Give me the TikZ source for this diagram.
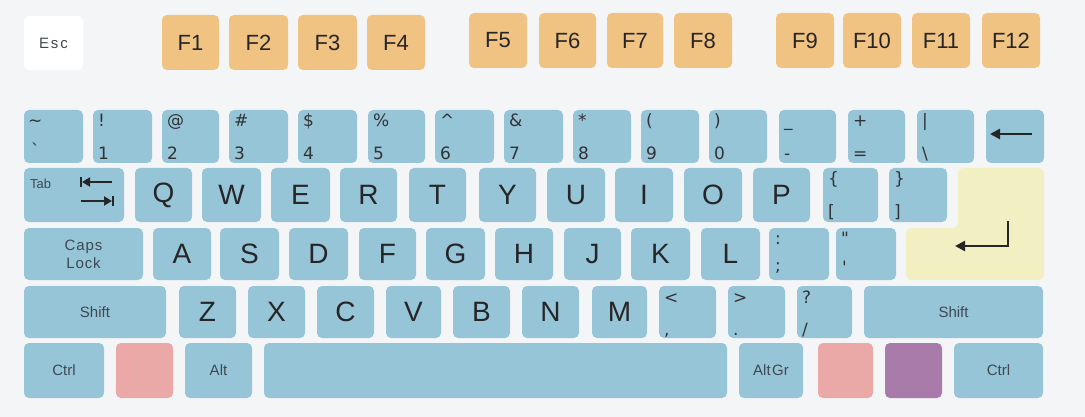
\documentclass[tikz,border=0pt]{standalone}
\usepackage{fontspec}
\setmainfont{Liberation Sans}
\newfontfamily\dvs{DejaVu Sans}
\usetikzlibrary{arrows.meta}
\definecolor{bg}{RGB}{244,245,247}
\definecolor{kblue}{RGB}{151,197,216}
\definecolor{korange}{RGB}{240,195,130}
\definecolor{kpink}{RGB}{234,168,166}
\definecolor{kpurple}{RGB}{168,123,170}
\definecolor{kyellow}{RGB}{242,240,194}
\definecolor{kdark}{RGB}{38,38,40}
\definecolor{klabel}{RGB}{62,72,82}
\definecolor{ksym}{RGB}{50,50,52}
\tikzset{
  keyb/.style={fill=kblue,draw=none,rounded corners=5pt,inner sep=0pt,text=kdark},
  letter/.style={font=\fontsize{28}{28}\selectfont},
  fkey/.style={fill=korange,font=\fontsize{22}{22}\selectfont},
  small/.style={font=\fontsize{15}{15}\selectfont,text=klabel},
  sym/.style={anchor=base west,inner sep=0pt,text=ksym,font=\dvs\fontsize{17}{17}\selectfont},
  arr/.style={line width=2.2pt,draw=kdark},
}
\newcommand\kb[7][]{%
  \pgfmathsetmacro\kw{#5-#3}\pgfmathsetmacro\kh{#6-#4}%
  \pgfmathsetmacro\kx{(#3+#5)/2}\pgfmathsetmacro\ky{(#4+#6)/2}%
  \node[keyb,#1,minimum width=\kw pt,minimum height=\kh pt] (#2) at (\kx,\ky) {#7};}
% two-symbol key: name, x1, x2, y1, y2, top, bottom
\newcommand\sk[7]{%
  \kb{#1}{#2}{#4}{#3}{#5}{}%
  \pgfmathsetmacro\sxa{#2+5}\pgfmathsetmacro\sya{#4+17}\pgfmathsetmacro\syb{#4+49.5}%
  \node[sym] (#1t) at (\sxa,\sya) {#6};
  \node[sym] (#1b) at (\sxa,\syb) {#7};}
\begin{document}
\begin{tikzpicture}[x=1pt,y=-1pt]
\fill[bg] (0,0) rectangle (1085,417);
\useasboundingbox (0,0) rectangle (1085,417);
% function row
\kb[fill=white,font=\fontsize{15}{15}\selectfont\addfontfeature{LetterSpace=12},text=klabel]{esc}{24}{16}{83}{70}{Esc}
\kb[fkey]{f1}{162}{15}{219}{70}{F1}
\kb[fkey]{f2}{229}{15}{288}{70}{F2}
\kb[fkey]{f3}{298}{15}{357}{70}{F3}
\kb[fkey]{f4}{367}{15}{425}{70}{F4}
\kb[fkey]{f5}{469}{13}{527}{68}{F5}
\kb[fkey]{f6}{539}{13}{596}{68}{F6}
\kb[fkey]{f7}{607}{13}{663}{68}{F7}
\kb[fkey]{f8}{674}{13}{732}{68}{F8}
\kb[fkey]{f9}{776}{13}{834}{68}{F9}
\kb[fkey]{f10}{843}{13}{901}{68}{F10}
\kb[fkey]{f11}{912}{13}{970}{68}{F11}
\kb[fkey]{f12}{982}{13}{1040}{68}{F12}
% number row
\kb{tilde}{24}{110}{83}{163}{}
\node[sym] (tildet) at (28,127) {\char`\~};
\node[sym] (tildeb) at (31,157) {\char`\`};
\sk{k1}{93}{152}{110}{163}{!}{1}
\sk{k2}{162}{219}{110}{163}{@}{2}
\sk{k3}{229}{288}{110}{163}{\#}{3}
\sk{k4}{298}{357}{110}{163}{\$}{4}
\sk{k5}{368}{425}{110}{163}{\%}{5}
\sk{k6}{435}{494}{110}{163}{\char`\^}{6}
\sk{k7}{504}{563}{110}{163}{\&}{7}
\sk{k8}{573}{631}{110}{163}{*}{8}
\sk{k9}{641}{699}{110}{163}{(}{9}
\sk{k0}{709}{767}{110}{163}{)}{0}
\sk{kmin}{779}{836}{110}{163}{\char`\_}{-}
\sk{keq}{848}{905}{110}{163}{+}{=}
\sk{kbsl}{917}{974}{110}{163}{|}{\char`\\}
\kb{bksp}{986}{110}{1044}{163}{}
\coordinate (bkA) at (1032,134);
\coordinate (bkB) at (990,134);
\draw[arr,line width=2.5pt,-{Triangle[length=10pt,width=10pt]}] (bkA) -- (bkB);
% tab row
\kb[anchor=center]{tab}{24}{168}{124}{222}{}
\node[small,inner sep=0pt,anchor=west,font=\fontsize{13}{13}\selectfont] (tabt) at (30,184) {Tab};
\coordinate (t1a) at (112,182); \coordinate (t1b) at (82,182);
\coordinate (t2a) at (81,201); \coordinate (t2b) at (112,201);
\draw[arr,-{Triangle[length=8pt,width=9pt]}] (t1a) -- (t1b);
\draw[arr] (81,177) -- (81,187);
\draw[arr,-{Triangle[length=8pt,width=9pt]}] (t2a) -- (t2b);
\draw[arr] (113,196) -- (113,206);
\kb[letter]{q}{135}{168}{192}{222}{Q}
\kb[letter]{w}{202}{168}{261}{222}{W}
\kb[letter]{e}{271}{168}{330}{222}{E}
\kb[letter]{r}{340}{168}{397}{222}{R}
\kb[letter]{t}{409}{168}{466}{222}{T}
\kb[letter]{y}{479}{168}{536}{222}{Y}
\kb[letter]{u}{547}{168}{605}{222}{U}
\kb[letter]{i}{615}{168}{673}{222}{I}
\kb[letter]{o}{684}{168}{742}{222}{O}
\kb[letter]{p}{753}{168}{810}{222}{P}
\sk{klbr}{823}{878}{168}{222}{\{}{[}
\sk{krbr}{889}{947}{168}{222}{\}}{]}
% enter
\fill[kyellow,rounded corners=5pt] (958,168) -- (1044,168) -- (1044,280) -- (906,280) -- (906,228) -- (958,228) -- cycle;
\coordinate (enA) at (1008,221);
\coordinate (enC) at (1008,246);
\coordinate (enB) at (955,246);
\draw[arr,line width=2.4pt,-{Triangle[length=10pt,width=10pt]}] (enA) -- (enC) -- (enB);
% home row
\kb[small,align=center,font=\fontsize{15}{18}\selectfont\addfontfeature{LetterSpace=6}]{caps}{24}{228}{143}{280}{Caps\\Lock}
\kb[letter]{a}{153}{228}{211}{280}{A}
\kb[letter]{s}{220}{228}{279}{280}{S}
\kb[letter]{d}{289}{228}{348}{280}{D}
\kb[letter]{f}{359}{228}{416}{280}{F}
\kb[letter]{g}{426}{228}{485}{280}{G}
\kb[letter]{h}{495}{228}{553}{280}{H}
\kb[letter]{j}{564}{228}{621}{280}{J}
\kb[letter]{k}{631}{228}{690}{280}{K}
\kb[letter]{l}{701}{228}{760}{280}{L}
\kb{ksemi}{769}{228}{829}{280}{}
\node[sym] (ksemit) at (775,244) {:};
\node[sym] (ksemib) at (775,271) {;};
\kb{kquo}{836}{228}{896}{280}{}
\node[sym] (kquot) at (841,244) {"};
\node[sym] (kquob) at (842,273) {'};
% shift row
\kb[small]{lshift}{24}{286}{166}{338}{Shift}
\kb[letter]{z}{179}{286}{236}{338}{Z}
\kb[letter]{x}{248}{286}{305}{338}{X}
\kb[letter]{c}{317}{286}{374}{338}{C}
\kb[letter]{v}{386}{286}{441}{338}{V}
\kb[letter]{b}{453}{286}{510}{338}{B}
\kb[letter]{n}{522}{286}{579}{338}{N}
\kb[letter]{m}{592}{286}{647}{338}{M}
\sk{klt}{659}{716}{286}{338}{<}{,}
\sk{kgt}{728}{785}{286}{338}{>}{.}
\sk{kqm}{797}{852}{286}{338}{?}{/}
\kb[small]{rshift}{864}{286}{1043}{338}{Shift}
% bottom row
\kb[small]{lctrl}{24}{343}{104}{398}{Ctrl}
\kb[fill=kpink]{lwin}{116}{343}{173}{398}{}
\kb[small]{alt}{185}{343}{252}{398}{Alt}
\kb{space}{264}{343}{727}{398}{}
\kb[small]{altgr}{739}{343}{803}{398}{Alt\hspace{1.5pt}Gr}
\kb[fill=kpink]{rwin}{818}{343}{873}{398}{}
\kb[fill=kpurple]{menu}{885}{343}{942}{398}{}
\kb[small]{rctrl}{954}{343}{1043}{398}{Ctrl}
\end{tikzpicture}
\end{document}
